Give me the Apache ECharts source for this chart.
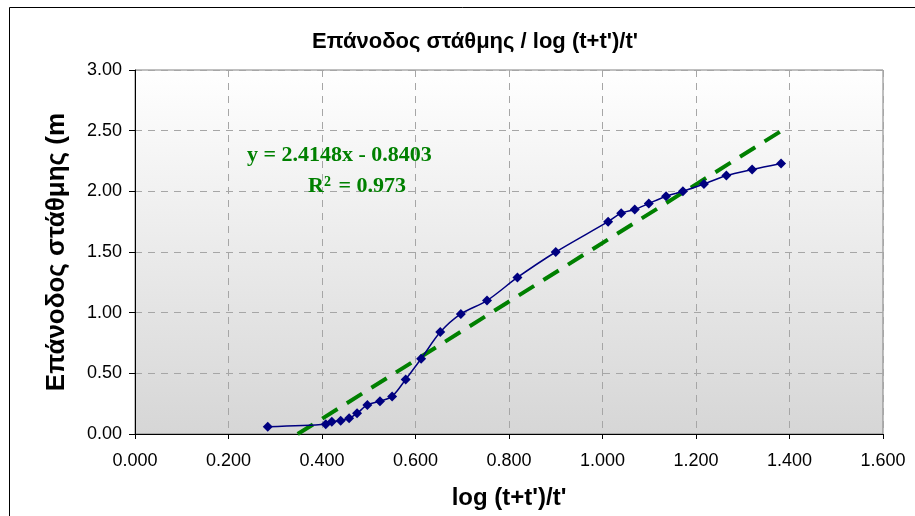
<!DOCTYPE html>
<html>
<head>
<meta charset="utf-8">
<script src="https://cdn.jsdelivr.net/npm/echarts@6/dist/echarts.min.js"></script>
<style>
  html, body { margin: 0; padding: 0; background: #fff; }
  #chart { width: 915px; height: 516px; }
</style>
</head>
<body>
<div id="chart"></div>
<script>
// log (t+t')/t' values and matching water level recovery (m)
const logValues = [0.284, 0.408, 0.421, 0.440, 0.458, 0.475, 0.497, 0.524, 0.550, 0.579,
  0.612, 0.653, 0.697, 0.753, 0.818, 0.900, 1.012, 1.040, 1.069, 1.099,
  1.136, 1.172, 1.217, 1.265, 1.320, 1.382];
const recovery = [0.06, 0.08, 0.10, 0.11, 0.13, 0.17, 0.24, 0.27, 0.31, 0.45,
  0.62, 0.84, 0.99, 1.10, 1.29, 1.50, 1.75, 1.82, 1.85, 1.90,
  1.96, 2.00, 2.06, 2.13, 2.18, 2.23];

// trendline endpoints
const trendX = [0.348, 1.382];
const trendY = [0.00, 2.497];

const points = logValues.map((x, i) => [x, recovery[i]]);
const trend = trendX.map((x, i) => [x, trendY[i]]);

const chart = echarts.init(document.getElementById("chart"));

const option = {
  backgroundColor: "#ffffff",
  animation: false,
  title: {
    text: "Επάνοδος στάθμης / log (t+t')/t'",
    left: 470,
    top: 26,
    textAlign: "center",
    textStyle: { fontFamily: "Liberation Sans", fontSize: 22, fontWeight: "bold", color: "#000" },
  },
  grid: {
    left: 135,
    right: 32,
    top: 70,
    bottom: 82,
    show: true,
    borderColor: "#808080",
    borderWidth: 1,
    backgroundColor: {
      type: "linear", x: 0, y: 0, x2: 0, y2: 1,
      colorStops: [
        { offset: 0, color: "#ffffff" },
        { offset: 1, color: "#d6d6d6" },
      ],
    },
  },
  xAxis: {
    type: "value",
    min: 0,
    max: 1.6,
    interval: 0.2,
    name: "log (t+t')/t'",
    nameLocation: "middle",
    nameGap: 52,
    nameTextStyle: { fontFamily: "Liberation Sans", fontSize: 24, fontWeight: "bold", color: "#000" },
    axisLine: { lineStyle: { color: "#000", width: 1 } },
    axisTick: { length: 5, lineStyle: { color: "#000" } },
    axisLabel: {
      margin: 18,
      fontFamily: "Liberation Sans",
      fontSize: 18,
      color: "#000",
      formatter: (v) => v.toFixed(3),
    },
    splitLine: { show: true, lineStyle: { color: "#a6a6a6", type: [7, 6] } },
  },
  yAxis: {
    type: "value",
    min: 0,
    max: 3,
    interval: 0.5,
    name: "Επάνοδος στάθμης (m",
    nameLocation: "middle",
    nameGap: 65,
    nameTextStyle: { fontFamily: "Liberation Sans", fontSize: 26, fontWeight: "bold", color: "#000" },
    axisLine: { show: true, lineStyle: { color: "#000", width: 1 } },
    axisTick: { show: true, length: 6, lineStyle: { color: "#000" } },
    axisLabel: {
      margin: 13,
      fontFamily: "Liberation Sans",
      fontSize: 18,
      color: "#000",
      formatter: (v) => v.toFixed(2),
    },
    splitLine: { show: true, lineStyle: { color: "#a6a6a6", type: [7, 6] } },
  },
  graphic: [
    {
      type: "rect",
      shape: { x: 9.5, y: 7.5, width: 1000, height: 600 },
      style: { fill: "none", stroke: "#000", lineWidth: 1 },
      z: 100,
    },
    {
      type: "text",
      left: 247,
      top: 144,
      style: {
        text: "y = 2.4148x - 0.8403",
        font: "bold 22px 'Liberation Serif'",
        fill: "#008000",
      },
      z: 100,
    },
    {
      type: "text",
      left: 308,
      top: 175,
      style: {
        text: "{r|R}{s|2}{r| = 0.973}",
        fill: "#008000",
        rich: {
          r: { font: "bold 22px 'Liberation Serif'", fill: "#008000" },
          s: { font: "bold 14px 'Liberation Serif'", fill: "#008000", verticalAlign: "top", padding: [0, 2, 8, 0] },
        },
      },
      z: 100,
    },
  ],
  series: [
    {
      name: "Trend",
      type: "line",
      data: trend,
      symbol: "none",
      lineStyle: { color: "#008000", width: 4, type: [18, 11] },
      z: 2,
    },
    {
      name: "Recovery",
      type: "line",
      data: points,
      smooth: 0.3,
      symbol: "diamond",
      symbolSize: 10,
      lineStyle: { color: "#000080", width: 1.5 },
      itemStyle: { color: "#000080" },
      z: 3,
    },
  ],
};

chart.setOption(option);
</script>
</body>
</html>
